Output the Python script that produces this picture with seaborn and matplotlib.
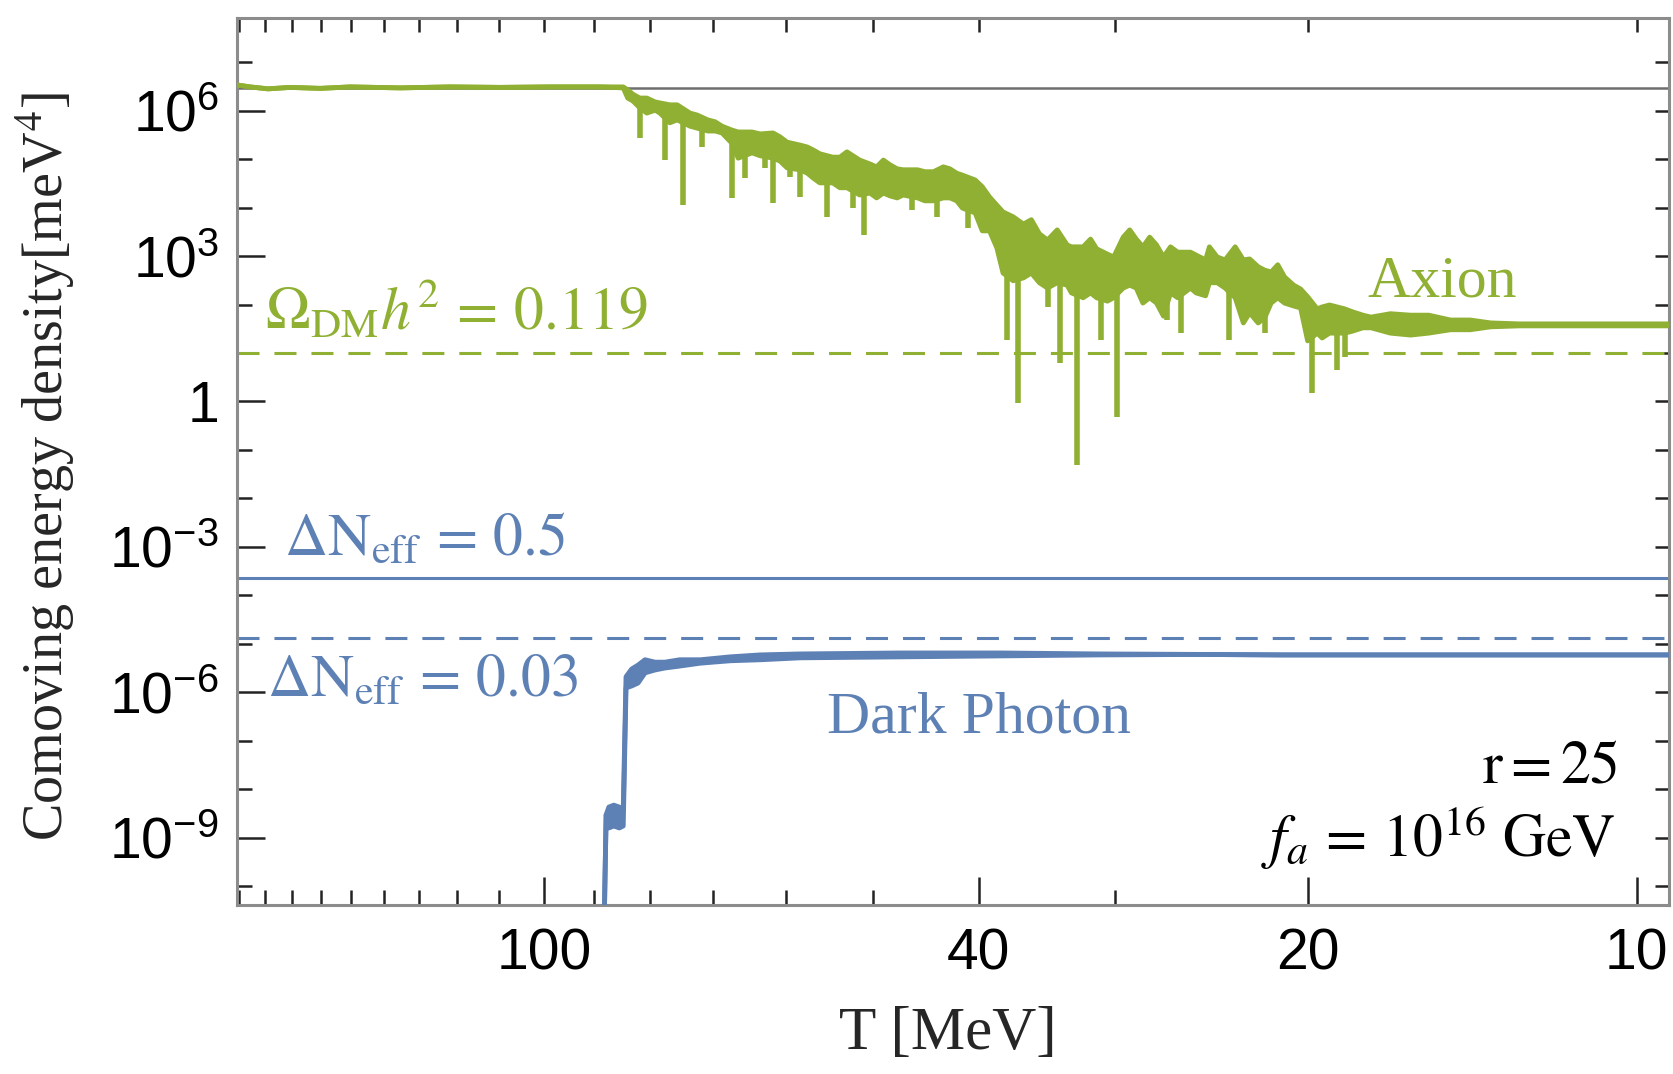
import numpy as np
import matplotlib
matplotlib.use("Agg")
import matplotlib.pyplot as plt
from matplotlib.ticker import NullFormatter
import seaborn as sns

# ---------------------------------------------------------------------------
# Data: temperature T [MeV] and log10 of comoving energy density [meV^4]
# ---------------------------------------------------------------------------
# Axion: upper / lower edge of the oscillating curve
axion_T = [190.9, 185.7, 178.8, 170.7, 160.2, 150.4, 135.4, 121.9, 109.7, 98.7,
           88.8, 84.6, 83.8, 82.9, 81.7, 80.5, 79.1, 78.3, 76.7, 75.5,
           73.5, 72.4, 70.8, 69.7, 68.7, 67.3, 66.4, 64.5, 63.4, 61.7,
           60.8, 59.9, 58.3, 57.4, 56.7, 55.9, 54.4, 53.6, 52.8, 51.4,
           50.3, 49.6, 48.9, 48.2, 47.5, 46.9, 45.5, 44.8, 44.0, 43.1,
           42.5, 41.9, 41.4, 40.3, 39.7, 39.1, 38.5, 38.0, 37.2, 36.4,
           35.8, 35.2, 34.6, 33.9, 33.2, 32.9, 32.1, 31.6, 31.2, 30.5,
           30.1, 29.5, 29.1, 28.7, 28.3, 27.9, 27.5, 27.1, 26.7, 26.3,
           25.6, 25.3, 24.8, 24.6, 24.2, 23.8, 23.3, 22.9, 22.6, 22.2,
           21.9, 21.6, 21.3, 21.0, 20.6, 20.3, 20.0, 19.6, 19.4, 19.1,
           18.5, 18.2, 17.8, 17.5, 16.8, 16.1, 15.5, 14.8, 14.2, 13.6,
           12.8, 11.75, 10.8, 9.34]
axion_log_hi = [6.53, 6.49, 6.45, 6.48, 6.46, 6.49, 6.47, 6.49, 6.48, 6.49,
                6.49, 6.49, 6.43, 6.34, 6.26, 6.26, 6.18, 6.16, 6.12, 6.12,
                5.95, 5.91, 5.81, 5.77, 5.68, 5.60, 5.56, 5.56, 5.52, 5.54,
                5.46, 5.35, 5.29, 5.25, 5.19, 5.11, 5.04, 5.04, 5.15, 4.98,
                4.90, 4.84, 4.98, 4.88, 4.80, 4.78, 4.78, 4.74, 4.74, 4.84,
                4.80, 4.71, 4.67, 4.57, 4.43, 4.22, 4.05, 3.91, 3.81, 3.66,
                3.75, 3.46, 3.33, 3.54, 3.23, 3.19, 3.19, 3.35, 3.15, 3.04,
                2.98, 3.39, 3.54, 3.35, 3.19, 3.39, 3.23, 2.98, 3.19, 3.08,
                3.08, 3.02, 2.92, 3.19, 2.98, 2.92, 3.19, 2.92, 2.94, 2.78,
                2.71, 2.67, 2.82, 2.57, 2.40, 2.32, 2.16, 1.91, 1.95, 1.99,
                1.91, 1.85, 1.78, 1.74, 1.81, 1.78, 1.78, 1.68, 1.68, 1.62,
                1.60, 1.60, 1.60, 1.60]
axion_log_lo = [6.53, 6.49, 6.45, 6.48, 6.46, 6.49, 6.47, 6.49, 6.48, 6.49,
                6.49, 6.47, 6.26, 6.20, 6.06, 5.95, 6.01, 5.95, 5.75, 5.81,
                5.68, 5.64, 5.58, 5.58, 5.54, 5.33, 5.02, 5.13, 5.07, 5.02,
                4.96, 4.82, 4.78, 4.71, 4.61, 4.51, 4.51, 4.41, 4.41, 4.26,
                4.30, 4.20, 4.30, 4.24, 4.20, 4.26, 4.20, 4.14, 4.14, 4.20,
                4.20, 4.14, 3.99, 3.89, 3.52, 3.52, 3.17, 2.65, 2.49, 2.55,
                2.65, 2.45, 2.34, 2.45, 2.40, 2.24, 2.14, 2.24, 2.14, 2.07,
                2.14, 2.34, 2.40, 2.34, 2.03, 2.14, 2.03, 1.76, 2.24, 2.14,
                2.34, 2.24, 2.18, 2.45, 2.45, 2.34, 2.14, 1.62, 1.83, 1.62,
                1.72, 2.03, 2.14, 2.03, 1.97, 1.93, 1.25, 1.41, 1.31, 1.41,
                1.41, 1.45, 1.52, 1.52, 1.41, 1.37, 1.41, 1.48, 1.48, 1.54,
                1.56, 1.56, 1.56, 1.56]

# Axion: narrow downward excursions of the oscillation
spike_T = [81.7, 77.5, 74.6, 71.7, 67.3, 65.5, 62.8, 61.7, 59.5, 58.3,
           55.1, 52.1, 50.9, 46.0, 43.7, 40.9, 37.7, 36.8, 34.6, 33.7,
           32.5, 30.9, 29.9, 26.9, 26.1, 23.6, 21.9, 19.8, 18.8, 18.5]
spike_log = [5.44, 4.98, 4.05, 5.25, 4.20, 4.61, 4.82, 4.10, 4.63, 4.22,
             3.81, 3.99, 3.44, 3.95, 3.81, 3.58, 1.27, -0.03, 1.95, 0.79,
             -1.31, 1.27, -0.32, 1.68, 1.41, 1.27, 1.41, 0.18, 0.65, 0.92]

# Dark photon: upper / lower edge
dp_T = [88.1, 87.7, 87.2, 86.3, 85.3, 84.6, 84.1, 83.1, 82.0, 80.8,
        79.1, 77.5, 75.1, 71.9, 67.5, 63.4, 58.3, 47.2, 38.2, 31.0,
        25.1, 21.2, 16.5, 9.34]
dp_log_hi = [-11.0, -8.53, -8.37, -8.33, -8.37, -8.43, -5.68, -5.52, -5.44, -5.33,
             -5.38, -5.38, -5.33, -5.33, -5.27, -5.23, -5.21, -5.19, -5.19, -5.21,
             -5.22, -5.23, -5.23, -5.23]
dp_log_lo = [-11.0, -8.53, -8.80, -8.76, -8.80, -8.76, -5.91, -5.87, -5.81, -5.60,
             -5.54, -5.50, -5.46, -5.40, -5.35, -5.33, -5.29, -5.27, -5.25, -5.23,
             -5.22, -5.23, -5.23, -5.23]

# Reference levels [meV^4]
rho_axion_initial = 2.9e6
rho_dm_observed = 10.0
rho_dneff_05 = 2.3e-4
rho_dneff_003 = 1.3e-5

# Axis ticks
x_major = [100, 40, 20, 10]
x_major_labels = ["100", "40", "20", "10"]
x_minor = [190, 180, 170, 160, 150, 140, 130, 120, 110, 90, 80, 70, 60, 50, 30]
y_major = [1e6, 1e3, 1.0, 1e-3, 1e-6, 1e-9]
y_major_labels = [r"$10^{6}$", r"$10^{3}$", "1", r"$10^{-3}$", r"$10^{-6}$", r"$10^{-9}$"]
y_minor = [1e7, 1e5, 1e4, 1e2, 1e1, 1e-1, 1e-2, 1e-4, 1e-5, 1e-7, 1e-8, 1e-10]

# ---------------------------------------------------------------------------
# Style
# ---------------------------------------------------------------------------
sns.set_theme(style="ticks")
plt.rcParams["font.family"] = ["Liberation Sans", "DejaVu Sans"]
plt.rcParams["mathtext.fontset"] = "custom"
plt.rcParams["mathtext.rm"] = "Liberation Sans"
plt.rcParams["mathtext.it"] = "Liberation Sans:italic"
plt.rcParams["mathtext.bf"] = "Liberation Sans:bold"

GREEN = "#8FB032"
BLUE = "#5E81B5"
SPINE = "#8c8c8c"
SERIF = ["Liberation Serif", "DejaVu Serif"]

fig = plt.figure(figsize=(16.74, 10.74), dpi=100)
ax = fig.add_axes([0.14158, 0.15736, 0.85544, 0.82561])
ax.set_xscale("log")
ax.set_yscale("log")
ax.set_xlim(190.9, 9.34)
ax.set_ylim(10 ** -10.39, 10 ** 7.906)

# reference levels
ax.axhline(rho_axion_initial, color="#6e6e6e", lw=1.8, zorder=1)
ax.axhline(rho_dm_observed, color=GREEN, lw=2.2, dashes=(7.2, 4.9), zorder=1)
ax.axhline(rho_dneff_05, color=BLUE, lw=2.2, zorder=1)
ax.axhline(rho_dneff_003, color=BLUE, lw=2.2, dashes=(7.2, 4.9), zorder=1)


def draw_band(T, log_lo, log_hi, color, lw):
    T = np.asarray(T, dtype=float)
    lo = 10.0 ** np.asarray(log_lo)
    hi = 10.0 ** np.asarray(log_hi)
    ax.fill_between(T, lo, hi, color=color, lw=0, zorder=3)
    for edge in (hi, lo):
        sns.lineplot(x=T, y=edge, ax=ax, color=color, lw=lw,
                     estimator=None, sort=False, zorder=3)


LW = 3.5
draw_band(axion_T, axion_log_lo, axion_log_hi, GREEN, LW)
draw_band(dp_T, dp_log_lo, dp_log_hi, BLUE, LW)

# downward spikes of the axion curve, joined to the lower edge of the band
logT = np.log10(axion_T)[::-1]
lo_edge = np.asarray(axion_log_lo)[::-1]
spike_join = np.interp(np.log10(spike_T), logT, lo_edge) + 0.05
ax.vlines(spike_T, 10.0 ** np.asarray(spike_log), 10.0 ** spike_join,
          color=GREEN, lw=4.0, zorder=3)

# ticks
ax.set_xticks(x_major, labels=x_major_labels)
ax.set_xticks(x_minor, minor=True)
ax.xaxis.set_minor_formatter(NullFormatter())
ax.set_yticks(y_major, labels=y_major_labels)
ax.set_yticks(y_minor, minor=True)
ax.yaxis.set_minor_formatter(NullFormatter())
ax.tick_params(which="major", direction="in", length=20, width=1.8,
               color="#222222", labelsize=41, pad=13, labelcolor="black")
ax.tick_params(which="minor", direction="in", length=10.5, width=1.8,
               color="#222222")
ax.tick_params(axis="x", which="major", pad=16)

sec_x = ax.secondary_xaxis("top")
sec_x.set_xticks(x_major)
sec_x.set_xticks(x_minor, minor=True)
sec_x.tick_params(which="both", direction="in", length=10, width=1.8,
                  color="#222222", labeltop=False)
sec_x.xaxis.set_minor_formatter(NullFormatter())
sec_x.spines["top"].set_visible(False)

sec_y = ax.secondary_yaxis("right")
sec_y.set_yticks(y_major)
sec_y.set_yticks(y_minor, minor=True)
sec_y.tick_params(which="both", direction="in", length=10, width=1.8,
                  color="#222222", labelright=False)
sec_y.yaxis.set_minor_formatter(NullFormatter())
sec_y.spines["right"].set_visible(False)

for sp in ax.spines.values():
    sp.set_color(SPINE)
    sp.set_linewidth(2.2)

# axis labels
ax.set_ylabel(r"Comoving energy density[meV$^{4}$]", fontsize=40.5,
              family=SERIF, math_fontfamily="stix")
ax.yaxis.set_label_coords(-0.112, 0.494)
ax.set_xlabel("T [MeV]", fontsize=44, family=SERIF)
ax.xaxis.set_label_coords(0.4965, -0.115)

# annotations
ax.text(0.0196, 0.6485, r"$\Omega_{\rm DM}h^2\,=\,0.119$", transform=ax.transAxes,
        color=GREEN, fontsize=43, math_fontfamily="stix", ha="left", va="baseline")
ax.text(0.8415, 0.6857, "Axion", transform=ax.transAxes, color=GREEN,
        fontsize=43, family=SERIF, ha="center", va="baseline")
ax.text(0.0325, 0.3947, r"$\Delta\mathrm{N}_{\mathrm{eff}}\,=\,0.5$", transform=ax.transAxes,
        color=BLUE, fontsize=43, math_fontfamily="stix", ha="left", va="baseline")
ax.text(0.0209, 0.2357, r"$\Delta\mathrm{N}_{\mathrm{eff}}\,=\,0.03$", transform=ax.transAxes,
        color=BLUE, fontsize=43, math_fontfamily="stix", ha="left", va="baseline")
ax.text(0.412, 0.1944, "Dark Photon", transform=ax.transAxes, color=BLUE,
        fontsize=43, family=SERIF, ha="left", va="baseline")
ax.text(0.9644, 0.1387, r"$\mathrm{r}=25$", transform=ax.transAxes, color="black",
        fontsize=43, math_fontfamily="stix", ha="right", va="baseline")
ax.text(0.963, 0.0541, r"$f_a\,=\,10^{16}\ \mathrm{GeV}$", transform=ax.transAxes,
        color="black", fontsize=43, math_fontfamily="stix", ha="right", va="baseline")

fig.savefig("out.png", dpi=100)
